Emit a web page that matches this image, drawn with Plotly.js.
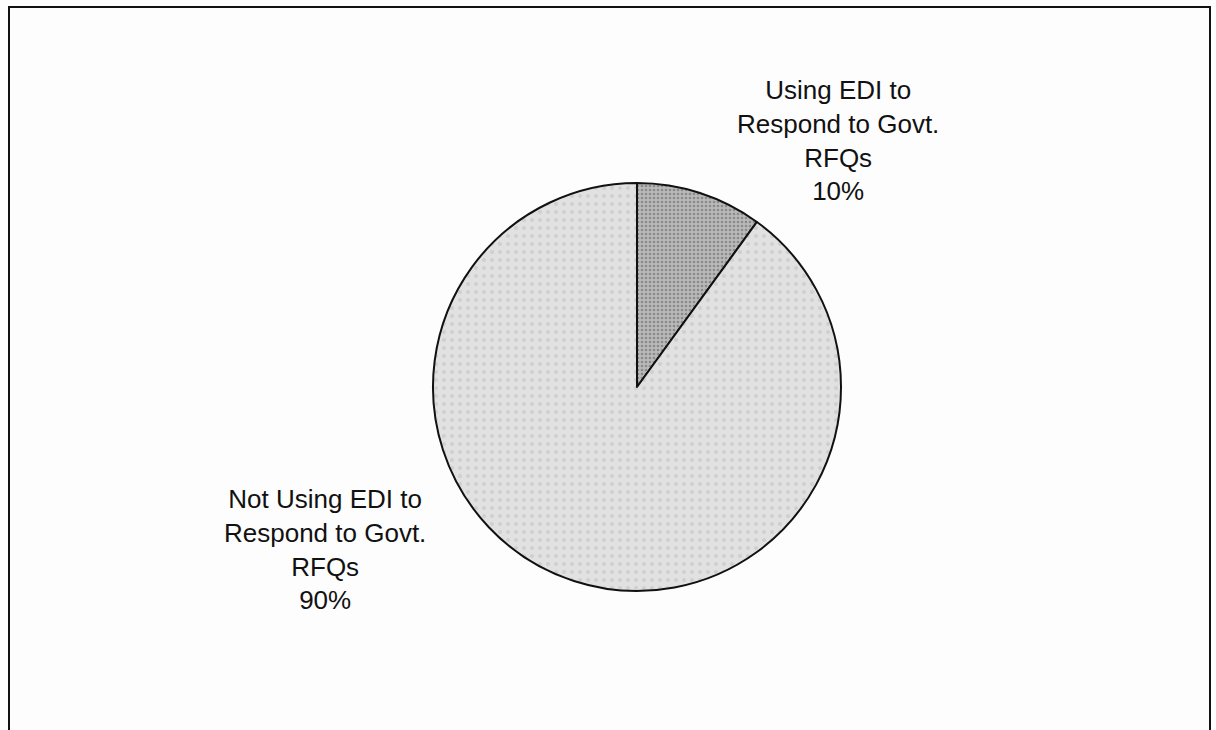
<!DOCTYPE html>
<html>
<head>
<meta charset="utf-8">
<script src="https://cdn.plot.ly/plotly-3.0.1.min.js"></script>
<style>html,body{margin:0;padding:0;background:#fdfdfd;}#chart{width:1216px;height:730px;}</style>
</head>
<body>
<div id="chart"></div>
<script>
const labels = ["Using EDI to<br>Respond to Govt.<br>RFQs", "Not Using EDI to<br>Respond to Govt.<br>RFQs"];
const values = [10, 90];
const percentText = ["10%", "90%"];
const sliceColors = ["#b9b9b9", "#e1e1e1"];
const W = 1216, H = 730;
const cx = 637, cy = 387, R = 204;

const trace = {
  type: "pie",
  labels: labels,
  values: values,
  sort: false,
  direction: "clockwise",
  rotation: 0,
  textinfo: "none",
  hoverinfo: "label+percent",
  showlegend: false,
  marker: {
    colors: sliceColors,
    line: {color: "#111", width: 2},
    pattern: {shape: ["." , "."], fgcolor: ["#8a8a8a", "#cfcfcf"], bgcolor: sliceColors, size: [4, 8], solidity: [0.35, 0.2]}
  },
  domain: {x: [(cx - R) / W, (cx + R) / W], y: [1 - (cy + R) / H, 1 - (cy - R) / H]}
};

const labelPos = [[838, 140], [325, 549]];
const annotations = labels.map((l, i) => ({
  xref: "paper", yref: "paper",
  x: labelPos[i][0] / W, y: 1 - labelPos[i][1] / H,
  xanchor: "center", yanchor: "middle",
  text: l + "<br>" + percentText[i],
  showarrow: false,
  align: "center",
  font: {family: "Liberation Sans, Arial, sans-serif", size: 26, color: "#111"}
}));

const layout = {
  width: W, height: H,
  margin: {l: 0, r: 0, t: 0, b: 0},
  paper_bgcolor: "#fdfdfd",
  plot_bgcolor: "#fdfdfd",
  annotations: annotations,
  shapes: [{
    type: "rect", xref: "paper", yref: "paper",
    x0: 9 / W, x1: 1210 / W, y0: -0.05, y1: 1 - 7 / H,
    line: {color: "#111", width: 2}, fillcolor: "rgba(0,0,0,0)"
  }]
};

Plotly.newPlot("chart", [trace], layout, {displayModeBar: false, staticPlot: true});
</script>
</body>
</html>
